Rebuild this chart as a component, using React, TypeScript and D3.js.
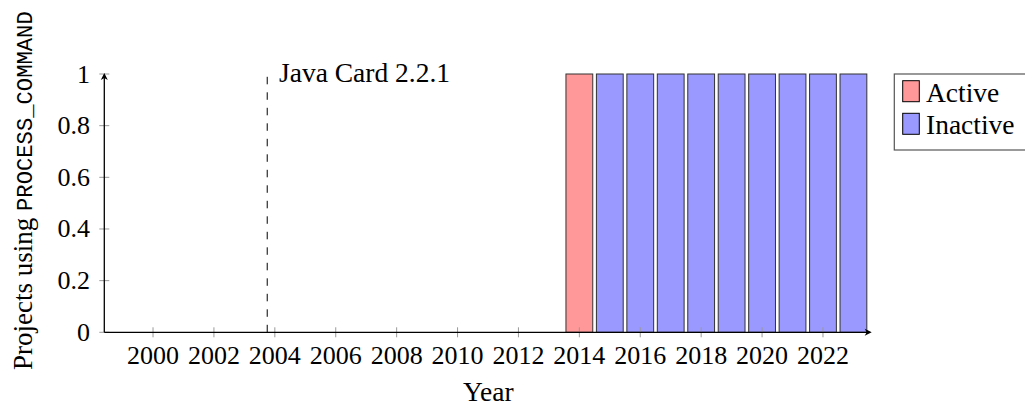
import React from "react";
import * as d3 from "d3";

const years = [2014, 2015, 2016, 2017, 2018, 2019, 2020, 2021, 2022, 2023];
const activeCounts = [1, 0, 0, 0, 0, 0, 0, 0, 0, 0];
const inactiveCounts = [0, 1, 1, 1, 1, 1, 1, 1, 1, 1];
const xTicks = [2000, 2002, 2004, 2006, 2008, 2010, 2012, 2014, 2016, 2018, 2020, 2022];
const yTicks = [0, 0.2, 0.4, 0.6, 0.8, 1];
const yTickLabels = ["0", "0.2", "0.4", "0.6", "0.8", "1"];
const markerYear = 2003.75;
const markerLabel = "Java Card 2.2.1";
const seriesNames = ["Active", "Inactive"];
const seriesColors = ["#ff9999", "#9999ff"];

const W = 1025;
const H = 408;
const SERIF = "'Liberation Serif', 'DejaVu Serif', serif";
const MONO = "'Liberation Mono', 'DejaVu Sans Mono', monospace";

export default function App() {
  const x = d3.scaleLinear().domain([1998.4, 2023.6]).range([104.3, 871.7]);
  const y = d3.scaleLinear().domain([0, 1]).range([332.3, 74]);
  const halfBar = 0.44;

  const bars: { year: number; y0: number; y1: number; color: string }[] = [];
  years.forEach((yr, i) => {
    const a = activeCounts[i];
    const b = inactiveCounts[i];
    if (a > 0) bars.push({ year: yr, y0: 0, y1: a, color: seriesColors[0] });
    if (b > 0) bars.push({ year: yr, y0: a, y1: a + b, color: seriesColors[1] });
  });

  const x0 = x.range()[0];
  const x1 = x.range()[1];
  const yb = y(0);
  const yt = y(1);

  return (
    <svg
      width={W}
      height={H}
      viewBox={`0 0 ${W} ${H}`}
      style={{ position: "absolute", left: 0, top: 0, background: "#fff" }}
    >
      <rect x={0} y={0} width={W} height={H} fill="#fff" />
      {bars.map((d, i) => (
        <rect
          key={i}
          x={x(d.year - halfBar)}
          y={y(d.y1)}
          width={x(d.year + halfBar) - x(d.year - halfBar)}
          height={y(d.y0) - y(d.y1)}
          fill={d.color}
          stroke="#333"
          strokeWidth={1}
        />
      ))}
      {xTicks.map((t) => (
        <g key={t}>
          <line x1={x(t)} x2={x(t)} y1={yb - 5} y2={yb + 5} stroke="#999" strokeWidth={1} />
          <text x={x(t)} y={364.3} textAnchor="middle" fontFamily={SERIF} fontSize={26} fill="#000">
            {t}
          </text>
        </g>
      ))}
      {yTicks.map((t, i) => (
        <g key={t}>
          <line x1={x0 - 5} x2={x0 + 5} y1={y(t)} y2={y(t)} stroke="#999" strokeWidth={1} />
          <text x={90} y={y(t) + 8.5} textAnchor="end" fontFamily={SERIF} fontSize={26} fill="#000">
            {yTickLabels[i]}
          </text>
        </g>
      ))}
      <line x1={x0} x2={x1 - 2} y1={yb} y2={yb} stroke="#000" strokeWidth={1.3} />
      <path
        d={`M${x1},${yb} L${x1 - 7},${yb - 3.5} L${x1 - 5},${yb} L${x1 - 7},${yb + 3.5} Z`}
        fill="#000"
      />
      <line x1={x0} x2={x0} y1={yb} y2={yt + 2} stroke="#000" strokeWidth={1.3} />
      <path
        d={`M${x0},${yt - 1} L${x0 - 3.5},${yt + 6} L${x0},${yt + 4} L${x0 + 3.5},${yt + 6} Z`}
        fill="#000"
      />
      <line
        x1={x(markerYear)}
        x2={x(markerYear)}
        y1={yb}
        y2={yt}
        stroke="#000"
        strokeWidth={1}
        strokeDasharray="7.5 8"
      />
      <text x={279} y={81.7} fontFamily={SERIF} fontSize={27.5} fill="#000">
        {markerLabel}
      </text>
      <text x={488.3} y={400.7} textAnchor="middle" fontFamily={SERIF} fontSize={27.5} fill="#000">
        Year
      </text>
      <text transform="translate(32,370) rotate(-90)" fontSize={27} fill="#000">
        <tspan fontFamily={SERIF}>Projects using </tspan>
        <tspan fontFamily={MONO} fontSize={22.2}>PROCESS_COMMAND</tspan>
      </text>
      <rect x={894.3} y={74} width={140} height={76} fill="#fff" stroke="#555" strokeWidth={1.2} />
      {seriesNames.map((name, i) => (
        <g key={name}>
          <rect
            x={902.7}
            y={80.7 + i * 32.6}
            width={16.6}
            height={21}
            fill={seriesColors[i]}
            stroke="#000"
            strokeWidth={1}
          />
          <text x={926} y={101.7 + i * 32.6} fontFamily={SERIF} fontSize={27.5} fill="#000">
            {name}
          </text>
        </g>
      ))}
    </svg>
  );
}
